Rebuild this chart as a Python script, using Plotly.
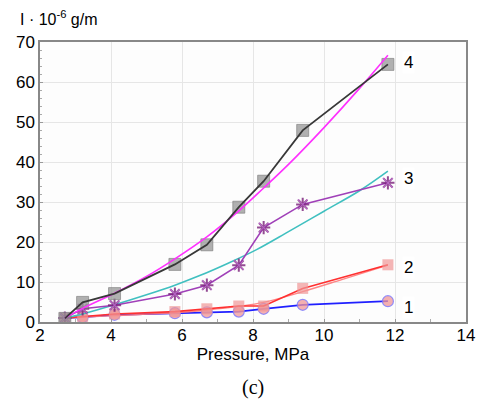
import plotly.graph_objects as go

pressure = [2.7, 3.2, 4.1, 5.8, 6.7, 7.6, 8.3, 9.4, 11.8]
s1 = [1.0, 1.2, 1.8, 2.2, 2.4, 2.6, 3.3, 4.3, 5.2]
s2 = [1.0, 1.4, 2.0, 2.6, 3.3, 4.0, 4.0, 8.4, 14.3]
s3 = [1.0, 3.3, 4.2, 7.0, 9.2, 14.2, 23.6, 29.4, 34.8]
s4 = [0.9, 4.9, 7.1, 14.4, 19.3, 28.7, 35.2, 47.9, 64.4]

fit4_x = [2.7, 3.2, 4.1, 5.0, 5.8, 6.7, 7.6, 8.3, 9.0, 10.0, 11.0, 11.8]
fit4_y = [1.0, 3.4, 7.2, 11.4, 15.8, 21.3, 27.8, 33.5, 39.4, 48.6, 58.4, 66.7]
fit3_x = [2.7, 3.2, 4.1, 5.0, 5.8, 6.5, 7.3, 8.1, 9.0, 10.0, 11.0, 11.8]
fit3_y = [1.0, 2.0, 4.3, 6.8, 9.2, 11.6, 14.7, 18.1, 22.6, 27.7, 32.8, 37.7]
fit2_x = [2.7, 4.1, 5.8, 6.7, 7.6, 8.3, 9.4, 10.5, 11.8]
fit2_y = [1.0, 1.6, 2.3, 3.0, 3.9, 4.9, 7.6, 10.6, 14.2]

labels = ["1", "2", "3", "4"]
label_y = [3.7, 13.6, 35.9, 65.0]
label_x = 12.38

fig = go.Figure()

# series 1
fig.add_trace(go.Scatter(x=pressure, y=s1, mode="lines+markers",
                         line=dict(color="#2020ff", width=1.8),
                         marker=dict(symbol="circle", size=11, color="rgba(240,150,150,0.75)",
                                     line=dict(color="rgba(120,120,255,0.8)", width=1.2))))
# series 2
fig.add_trace(go.Scatter(x=fit2_x, y=fit2_y, mode="lines", line=dict(color="rgba(255,120,120,0.9)", width=1.4, shape="spline")))
fig.add_trace(go.Scatter(x=pressure, y=s2, mode="lines+markers",
                         line=dict(color="#ff3030", width=1.6),
                         marker=dict(symbol="square", size=11, color="rgba(240,150,150,0.7)",
                                     line=dict(width=0))))
# series 3
fig.add_trace(go.Scatter(x=fit3_x, y=fit3_y, mode="lines", line=dict(color="#40c0c0", width=1.6, shape="spline")))
fig.add_trace(go.Scatter(x=pressure, y=s3, mode="lines+markers",
                         line=dict(color="#a040b8", width=1.6),
                         marker=dict(symbol="asterisk", size=11, color="rgba(160,50,160,0.8)",
                                     line=dict(color="rgba(120,30,120,0.8)", width=2))))
fig.add_trace(go.Scatter(x=pressure, y=s3, mode="markers",
                         marker=dict(symbol="x-thin", size=10,
                                     line=dict(color="rgba(200,120,220,0.7)", width=1.2))))
# series 4
fig.add_trace(go.Scatter(x=pressure, y=s4, mode="markers",
                         marker=dict(symbol="square", size=12, color="rgba(150,150,150,0.75)",
                                     line=dict(color="rgba(120,120,120,0.6)", width=1))))
fig.add_trace(go.Scatter(x=fit4_x, y=fit4_y, mode="lines", line=dict(color="#ff30ff", width=1.6, shape="spline", smoothing=1.0)))
fig.add_trace(go.Scatter(x=pressure, y=s4, mode="lines", line=dict(color="#383838", width=1.8)))

for lx, ly, lt in zip([label_x] * 4, label_y, labels):
    fig.add_annotation(x=lx, y=ly, text=lt, showarrow=False, bgcolor="white",
                       font=dict(family="Liberation Sans, Arial", size=17, color="#000"))

fig.update_layout(
    width=477, height=399,
    margin=dict(l=40, r=11, t=42, b=77, autoexpand=False),
    showlegend=False,
    paper_bgcolor="white",
    plot_bgcolor="#fdfdfd",
    font=dict(family="Liberation Sans, Arial", size=17, color="#000"),
)
fig.update_xaxes(range=[2, 14], tickvals=[2, 4, 6, 8, 10, 12, 14], automargin=False,
                 showgrid=True, gridcolor="#e6e6e6", gridwidth=1,
                 showline=True, linecolor="#888", linewidth=1.5, mirror=True,
                 ticks="inside", ticklen=3, tickcolor="#999", ticklabelstandoff=-3,
                 ticklabeloverflow="allow",
                 minor=dict(dtick=1, ticks="inside", ticklen=3, tickcolor="#aaa", showgrid=False),
                 zeroline=False, tickfont=dict(size=17, color="#000"),
                 title=dict(text="Pressure, MPa", font=dict(size=17, color="#000"), standoff=0))
fig.update_yaxes(range=[0, 70], tickvals=[0, 10, 20, 30, 40, 50, 60, 70], automargin=False,
                 showgrid=True, gridcolor="#e6e6e6", gridwidth=1,
                 showline=True, linecolor="#888", linewidth=1.5, mirror=True,
                 ticks="inside", ticklen=3, tickcolor="#999",
                 minor=dict(dtick=2, ticks="inside", ticklen=2, tickcolor="#aaa", showgrid=False),
                 zeroline=False, tickfont=dict(size=17, color="#000"))

fig.add_annotation(text="I · 10<sup>-6</sup> g/m", xref="paper", yref="paper", x=-0.052, y=1.0,
                   yshift=24, xanchor="left", yanchor="middle", showarrow=False,
                   font=dict(size=16, color="#000"))
fig.add_annotation(text="(c)", xref="paper", yref="paper", x=0.5, y=0, yshift=-65,
                   xanchor="center", yanchor="middle", showarrow=False,
                   font=dict(family="Liberation Serif, Times New Roman", size=20, color="#000"))

fig.write_html("out.html", config={"displayModeBar": False},
               post_script="document.body.style.margin='0';document.body.style.overflow='hidden';")
